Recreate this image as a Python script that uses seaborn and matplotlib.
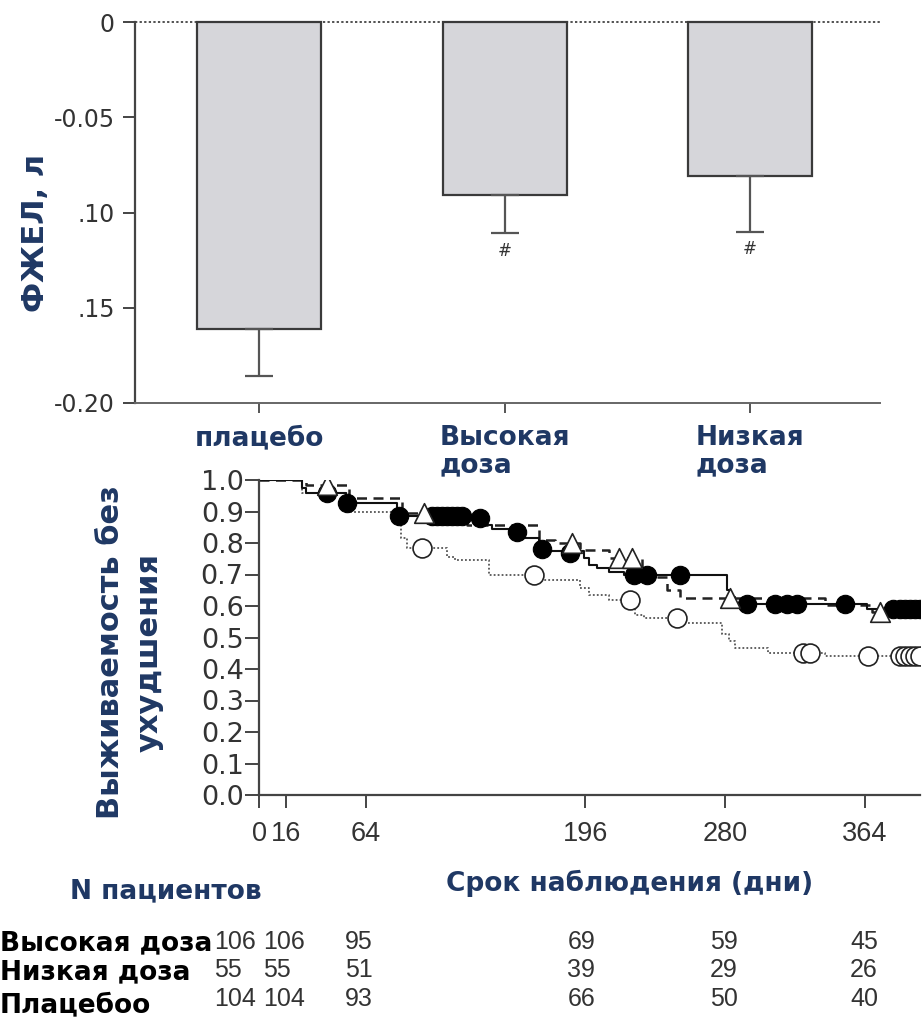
import numpy as np
import pandas as pd
import matplotlib
matplotlib.use("Agg")
import matplotlib.pyplot as plt
import matplotlib.transforms as mtrans
import seaborn as sns

# ---------------- data: top panel (FVC change) ----------------
groups = ["плацебо", "Высокая\nдоза", "Низкая\nдоза"]
fvc_change = [-0.161, -0.091, -0.081]
fvc_err = [0.025, 0.020, 0.029]
sig_marks = ["", "#", "#"]
top_ticks = [0.0, -0.05, -0.10, -0.15, -0.20]
top_tick_labels = ["0", "-0.05", ".10", ".15", "-0.20"]

# ---------------- data: Kaplan-Meier curves ----------------
high_t = [0, 26, 28, 52, 83, 136, 140, 150, 158, 168, 195, 198, 203, 210, 219, 281, 283, 286, 365, 398]
high_s = [1.0, 0.975, 0.96, 0.927, 0.885, 0.857, 0.845, 0.835, 0.815, 0.775, 0.752, 0.730, 0.72, 0.708,
          0.698, 0.65, 0.629, 0.605, 0.59, 0.59]
high_cens_t = [41, 53, 84, 104, 107, 110, 113, 116, 119, 122, 133, 155, 170, 187, 225, 233, 253,
               293, 310, 317, 323, 352, 381, 385, 388, 391, 394, 397]
high_cens_s = [0.96, 0.927, 0.885, 0.885, 0.885, 0.885, 0.885, 0.885, 0.885, 0.885, 0.88, 0.835, 0.78,
               0.768, 0.698, 0.698, 0.698, 0.605, 0.605, 0.605, 0.605, 0.605, 0.59, 0.59, 0.59, 0.59,
               0.59, 0.59]

low_t = [0, 28, 54, 86, 110, 125, 168, 178, 193, 210, 230, 245, 253, 340, 368, 373]
low_s = [1.0, 0.984, 0.943, 0.895, 0.875, 0.857, 0.81, 0.80, 0.778, 0.752, 0.692, 0.65, 0.625, 0.603,
         0.58, 0.58]
low_cens_t = [41, 99, 188, 216, 224, 283, 373]
low_cens_s = [0.984, 0.895, 0.80, 0.752, 0.752, 0.625, 0.58]

plac_t = [0, 26, 54, 85, 89, 113, 118, 138, 170, 193, 198, 210, 226, 231, 255, 278, 282, 286, 306, 340, 398]
plac_s = [1.0, 0.96, 0.898, 0.816, 0.784, 0.756, 0.746, 0.698, 0.683, 0.657, 0.635, 0.619, 0.571, 0.562,
          0.545, 0.51, 0.49, 0.466, 0.45, 0.44, 0.44]
plac_cens_t = [98, 165, 223, 251, 327, 331, 366, 385, 388, 391, 394, 397]
plac_cens_s = [0.784, 0.698, 0.619, 0.562, 0.45, 0.45, 0.44, 0.44, 0.44, 0.44, 0.44, 0.44]

km_ticks = [0, 16, 64, 196, 280, 364]
km_yticks = [0.0, 0.1, 0.2, 0.3, 0.4, 0.5, 0.6, 0.7, 0.8, 0.9, 1.0]

# ---------------- data: number at risk ----------------
risk_rows = ["Высокая доза", "Низкая доза", "Плацебоо"]
risk_high = [106, 106, 95, 69, 59, 45]
risk_low = [55, 55, 51, 39, 29, 26]
risk_plac = [104, 104, 93, 66, 50, 40]

# ---------------- styling ----------------
NAVY = "#1f3864"
GRAY = "#333333"
W, H = 922, 1027

sns.set_style("ticks")
plt.rcParams["font.family"] = ["DejaVu Sans"]

fig = plt.figure(figsize=(W / 100, H / 100), dpi=100)

def px_axes(l, t, r, b):
    return fig.add_axes([l / W, 1 - b / H, (r - l) / W, (b - t) / H])

# ================= top panel =================
ax1 = px_axes(135, 22, 880, 403)
sns.barplot(x=list(range(len(groups))), y=fvc_change, ax=ax1, color="#d6d6da",
            edgecolor="#3a3a3a", linewidth=1.6, width=0.505, saturation=1,
            errorbar=None, native_scale=True)
for p in ax1.patches:
    p.set_clip_on(False)
ax1.errorbar(list(range(len(groups))), fvc_change,
             yerr=[fvc_err, [0] * len(fvc_err)], fmt="none",
             ecolor="#555555", elinewidth=1.6, capsize=10, capthick=1.6)
for i, (v, e, m) in enumerate(zip(fvc_change, fvc_err, sig_marks)):
    if m:
        ax1.annotate(m, xy=(i, v - e), xytext=(0, -6), textcoords="offset points",
                     ha="center", va="top", fontsize=12, color="#333333", style="italic")
ax1.axhline(0, color="#222222", lw=1.1, ls=(0, (1.5, 1.5)), clip_on=False, zorder=0)
ax1.set_xlim(-0.506, 2.53)
ax1.set_ylim(-0.20, 0.0)
ax1.set_yticks(top_ticks)
ax1.set_yticklabels(top_tick_labels, fontsize=17, color=GRAY)
ax1.set_xticks(list(range(len(groups))))
ax1.set_xticklabels(groups, fontsize=19, fontweight="bold", color=NAVY,
                    multialignment="left", linespacing=1.05)
for lab in ax1.get_xticklabels():
    lab.set_transform(lab.get_transform() + mtrans.ScaledTranslation(8 / 100, 0, fig.dpi_scale_trans))
ax1.tick_params(axis="y", length=8.5, width=1.4, color="#444444", pad=6)
ax1.tick_params(axis="x", length=7, width=1.4, color="#555555", pad=9)
for s in ["top", "right"]:
    ax1.spines[s].set_visible(False)
ax1.spines["left"].set_color("#444444")
ax1.spines["left"].set_linewidth(1.6)
ax1.spines["bottom"].set_color("#666666")
ax1.spines["bottom"].set_linewidth(1.4)
ax1.set_xlabel("")
ax1.set_ylabel("")
fig.text(36 / W, 1 - 233 / H, "ФЖЕЛ, л", rotation=90, ha="center", va="center",
         fontsize=22, fontweight="bold", color=NAVY)

# ================= bottom panel (KM) =================
ax2 = px_axes(259, 480, 920, 795)
sns.lineplot(x=plac_t, y=plac_s, ax=ax2, drawstyle="steps-post", estimator=None, sort=False,
             color="#555555", lw=1.3, linestyle=(0, (1, 1.2)))
sns.lineplot(x=low_t, y=low_s, ax=ax2, drawstyle="steps-post", estimator=None, sort=False,
             color="#222222", lw=1.8)
ax2.lines[-1].set_dashes([4, 2.6])
sns.lineplot(x=high_t, y=high_s, ax=ax2, drawstyle="steps-post", estimator=None, sort=False,
             color="#111111", lw=1.5)

sns.scatterplot(x=high_cens_t, y=high_cens_s, ax=ax2, marker="o", s=175, color="black",
                edgecolor="black", linewidth=0.8, zorder=5)
sns.scatterplot(x=plac_cens_t, y=plac_cens_s, ax=ax2, marker="o", s=185, color="white",
                edgecolor="#222222", linewidth=1.2, zorder=6)
sns.scatterplot(x=low_cens_t, y=low_cens_s, ax=ax2, marker="^", s=200, color="white",
                edgecolor="#222222", linewidth=1.2, zorder=7)

ax2.set_xlim(0, 397)
ax2.set_ylim(0, 1.0)
ax2.set_yticks(km_yticks)
ax2.set_yticklabels([f"{v:.1f}" for v in km_yticks], fontsize=19.5, color=GRAY)
ax2.set_xticks(km_ticks)
ax2.set_xticklabels([str(v) for v in km_ticks], fontsize=19.5, color=GRAY,
                    family="Liberation Sans")
ax2.tick_params(axis="y", length=10, width=1.4, color="#444444", pad=1)
ax2.tick_params(axis="x", length=9, width=1.4, color="#444444", pad=10)
for s in ["top", "right"]:
    ax2.spines[s].set_visible(False)
for s in ["left", "bottom"]:
    ax2.spines[s].set_color("#444444")
    ax2.spines[s].set_linewidth(1.6)
ax2.set_xlabel("")
ax2.set_ylabel("")

fig.text(130 / W, 1 - 652 / H, "Выживаемость без\nухудшения", rotation=90, ha="center",
         va="center", fontsize=22, fontweight="bold", color=NAVY, linespacing=1.4)
fig.text(630 / W, 1 - 883 / H, "Срок наблюдения (дни)", ha="center", va="center",
         fontsize=19, fontweight="bold", color=NAVY)
fig.text(166 / W, 1 - 891 / H, "N пациентов", ha="center", va="center",
         fontsize=19, fontweight="bold", color=NAVY)

# number-at-risk table
row_y_px = [942, 970, 999]
label_y_px = [943, 972, 1005]
col_offsets_px = [-45, -23, -21, -18, -15, -15]
blend = mtrans.blended_transform_factory(ax2.transData, fig.transFigure)
for r, (name, vals) in enumerate(zip(risk_rows, [risk_high, risk_low, risk_plac])):
    fig.text(0 / W, 1 - label_y_px[r] / H, name, ha="left", va="center", fontsize=19,
             fontweight="bold", color="black")
    for c, (day, v) in enumerate(zip(km_ticks, vals)):
        tr = blend + mtrans.ScaledTranslation(col_offsets_px[c] / 100, 0, fig.dpi_scale_trans)
        ax2.text(day, 1 - row_y_px[r] / H, str(v), transform=tr, ha="left", va="center",
                 fontsize=18, color=GRAY, family="Liberation Sans", clip_on=False)

fig.savefig("out.png", dpi=100)
